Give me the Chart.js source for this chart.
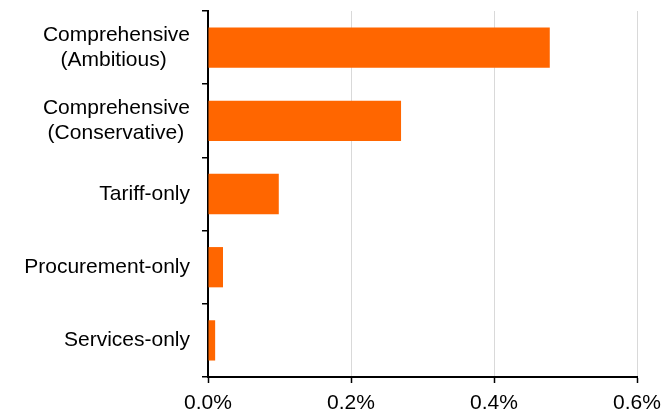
<!DOCTYPE html>
<html>
<head>
<meta charset="utf-8">
<script src="https://cdn.jsdelivr.net/npm/chart.js@4/dist/chart.umd.min.js"></script>
<style>
  html, body { margin: 0; padding: 0; background: #fff; }
  #wrap { width: 664px; height: 419px; }
</style>
</head>
<body>
<div id="wrap"><canvas id="c"></canvas></div>
<script>
// Scenario labels (multi-line where the reference wraps them)
const categories = [
  ['Comprehensive', '(Ambitious)'],
  ['Comprehensive', '(Conservative)'],
  'Tariff-only',
  'Procurement-only',
  'Services-only',
];
// Impact, %
const values = [0.478, 0.270, 0.099, 0.021, 0.010];
const xTicks = [0, 0.2, 0.4, 0.6];

const ORANGE = '#ff6600';
const INK = '#000000';
const GRID = '#d9d9d9';
const FONT = { family: '"Liberation Sans", Arial, sans-serif', size: 21, lineHeight: 1.2 };

// wrapped labels are centred line-on-line in the reference, chart.js right-aligns
// each line, so pad the shorter lines with trailing spaces
const mctx = document.createElement('canvas').getContext('2d');
mctx.font = `${FONT.size}px ${FONT.family}`;
function centreLines(lines) {
  const w = lines.map(l => mctx.measureText(l).width);
  const max = Math.max(...w);
  const sp = mctx.measureText(' ').width;
  return lines.map((l, i) => l + ' '.repeat(Math.round((max - w[i]) / 2 / sp)));
}

new Chart(document.getElementById('c'), {
  type: 'bar',
  data: {
    labels: categories,
    datasets: [{
      data: values,
      backgroundColor: ORANGE,
      borderWidth: 0,
      categoryPercentage: 1,
      barPercentage: 0.55,
    }]
  },
  options: {
    indexAxis: 'y',
    responsive: true, maintainAspectRatio: false,
    animation: false,
    layout: { padding: { top: 11, right: 27, left: 0, bottom: 0 } },
    scales: {
      x: {
        min: 0, max: 0.6,
        afterBuildTicks: s => { s.ticks = xTicks.map(v => ({ value: v })); },
        afterFit: s => { s.height = 42; s.paddingLeft = 0; s.paddingRight = 0; },
        ticks: {
          color: INK, font: FONT, padding: 8,
          callback: v => v.toFixed(1) + '%',
          maxRotation: 0,
        },
        grid: { color: GRID, lineWidth: 1, tickColor: INK, tickLength: 6, tickWidth: 1.5 },
        border: { color: INK, width: 2 },
      },
      y: {
        afterFit: s => { s.width = 208; s.paddingTop = 0; s.paddingBottom = 0; },
        ticks: {
          color: INK, font: FONT, padding: 12,
          callback: (v, i) => Array.isArray(categories[i]) ? centreLines(categories[i]) : categories[i],
        },
        grid: { drawOnChartArea: false, color: INK, tickLength: 6, lineWidth: 1.5 },
        border: { color: INK, width: 2 },
      }
    },
    plugins: {
      legend: { display: false },
      tooltip: { enabled: false },
    }
  }
});
</script>
</body>
</html>
